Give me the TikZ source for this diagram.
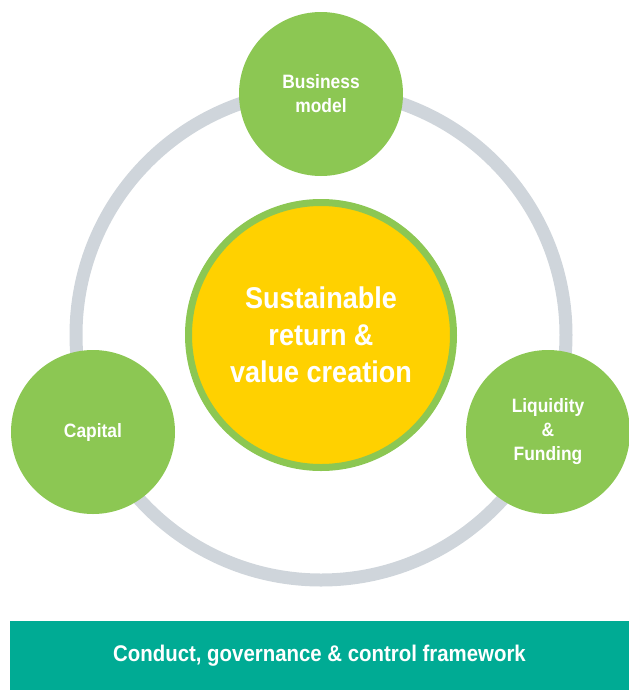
\documentclass[tikz,border=0pt]{standalone}
\usepackage{fontspec}
\setmainfont{Liberation Sans}[FakeStretch=0.9]
\definecolor{leaf}{RGB}{140,199,83}
\definecolor{ringgrey}{RGB}{207,213,219}
\definecolor{sun}{RGB}{255,209,0}
\definecolor{teal}{RGB}{0,171,148}

\tikzset{every picture/.style={line width=0.75pt}}
\tikzset{
  pillar/.style={circle, fill=leaf, minimum size=123pt, inner sep=0pt, align=center, text=white, font=\bfseries\fontsize{14.5}{18}\selectfont},
}

\begin{document}
\begin{tikzpicture}[x=0.75pt,y=0.75pt,yscale=-1,xscale=1]
\useasboundingbox (0,0) rectangle (629,690);

%Circle: ring
\draw [color=ringgrey, line width=9.75pt] (321,335) circle (245);

%Circle: hub
\node (hub) [circle, fill=sun, draw=leaf, line width=5.25pt, minimum size=198.75pt, inner sep=0pt, align=center, text=white, font=\bfseries\fontsize{22.5}{27.6}\selectfont] at (321,335) {Sustainable\\return \&\\value creation};

%Circles: pillars
\node (model) [pillar] at (321,94) {Business\\model};
\node (capital) [pillar] at (93,432) {Capital};
\node (liquidity) [pillar] at (548,432) {Liquidity\\\&\\Funding};

%Rect: framework bar
\node (frame) [fill=teal, minimum width=465pt, minimum height=52.5pt, inner sep=0pt, anchor=north west, text=white, font=\bfseries\fontsize{17}{20}\selectfont] at (9,620) {Conduct, governance \& control framework};

\end{tikzpicture}
\end{document}
